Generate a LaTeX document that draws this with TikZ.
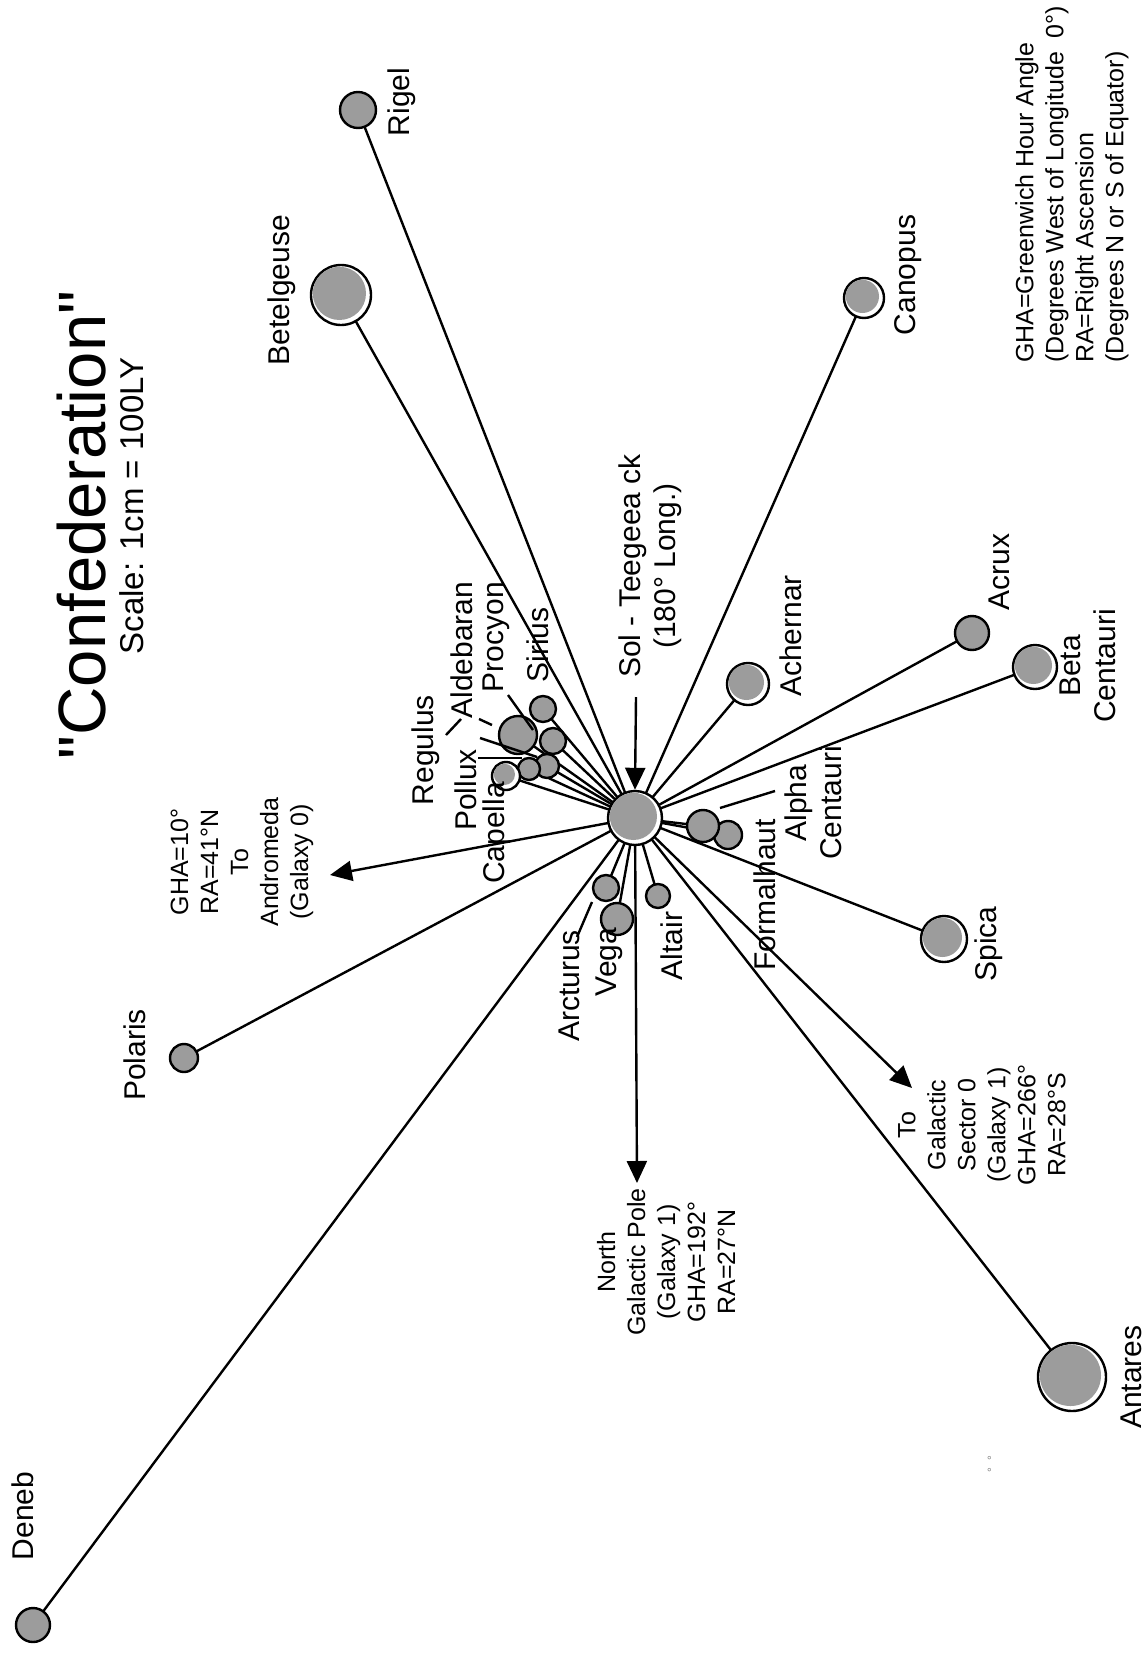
\documentclass[tikz,border=0pt]{standalone}
\usepackage{fontspec}
\setmainfont{Liberation Sans}
\newfontfamily\titlefont{Liberation Sans}
\usetikzlibrary{arrows.meta,backgrounds}
\definecolor{ballgray}{RGB}{156,156,156}
\tikzset{
  ball/.style={circle,draw,line width=2.4pt,fill=ballgray,inner sep=0pt},
  haloball/.style={ball,fill=white},
  lbl/.style={rotate=90,inner sep=0pt,align=center,font=\fontsize{30}{35}\selectfont},
  smalllbl/.style={lbl,font=\fontsize{25}{30}\selectfont},
  ray/.style={line width=2.4pt},
  arr/.style={ray,-{Triangle[length={22pt 0},width={20pt 0}]}}
}
% gray disc inside a haloed star, shifted up-left
\newcommand{\halofill}[2]{\fill[ballgray] ([shift={(-1.6pt,1.6pt)}]#1.center) circle[radius=#2pt-3.4pt];}
\begin{document}
\begin{tikzpicture}[x=1pt,y=-1pt]
        \useasboundingbox (0,0) rectangle (1148,1654);
        % title
        \node[lbl,font=\titlefont\fontsize{67}{70}\selectfont] (title) at (82,525) {"Confederation"};
        \node[lbl,font=\fontsize{33}{36}\selectfont] (scale) at (132,506) {Scale:  1cm = 100LY};
        \node[smalllbl,anchor=west,align=left] (legend) at (1072,363) {GHA=Greenwich Hour Angle\\(Degrees West of Longitude\ \ 0°)\\RA=Right Ascension\\(Degrees N or S of Equator)};
        % stars
        \node[haloball,minimum size=54pt] (sol) at (635,818) {}; \halofill{sol}{27}
        \node[ball,minimum size=36pt] (rigel) at (358,110) {};
        \node[haloball,minimum size=60pt] (betelgeuse) at (341,295) {}; \halofill{betelgeuse}{30}
        \node[haloball,minimum size=40pt] (canopus) at (864,298) {}; \halofill{canopus}{20}
        \node[ball,minimum size=34pt] (acrux) at (972,633) {};
        \node[haloball,minimum size=44pt] (betacen) at (1035,667) {}; \halofill{betacen}{22}
        \node[haloball,minimum size=42pt] (achernar) at (748,684) {}; \halofill{achernar}{21}
        \node[ball,minimum size=28pt] (alphaB) at (728,835) {};
        \node[ball,minimum size=32pt] (alphaA) at (703,826) {};
        \node[haloball,minimum size=46pt] (spica) at (944,939) {}; \halofill{spica}{23}
        \node[haloball,minimum size=68pt] (antares) at (1072,1377) {}; \halofill{antares}{34}
        \node[ball,minimum size=24pt] (altair) at (658,896) {};
        \node[ball,minimum size=32pt] (vega) at (617,919) {};
        \node[ball,minimum size=26pt] (arcturus) at (606,888) {};
        \node[ball,minimum size=28pt] (polaris) at (184,1058) {};
        \node[ball,minimum size=34pt] (deneb) at (33,1625) {};
        \node[ball,minimum size=26pt] (sirius) at (543,709) {};
        \node[ball,minimum size=38pt] (aldebaran) at (518,735) {};
        \node[ball,minimum size=26pt] (procyon) at (553,741) {};
        \node[ball,minimum size=24pt] (regulus) at (547,766) {};
        \node[ball,minimum size=22pt] (pollux) at (529,769) {};
        \node[haloball,minimum size=28pt] (capella) at (506,776) {}; \halofill{capella}{14}
        % arrow ends
        \coordinate (solptr) at (636,697);
        \coordinate (andtip) at (330,875);
        \coordinate (ngptip) at (637,1183);
        \coordinate (sectip) at (912,1088);
        \begin{scope}[on background layer]
        \foreach \s in {rigel,betelgeuse,canopus,acrux,betacen,achernar,alphaA,alphaB,spica,antares,
                        altair,vega,arcturus,polaris,deneb,sirius,aldebaran,procyon,regulus,pollux,capella}
          \draw[ray] (sol.center) -- (\s.center);
        \draw[arr] (sol.center) -- (andtip);
        \draw[arr] (sol.center) -- (ngptip);
        \draw[arr] (sol.center) -- (sectip);
        \end{scope}
        \draw[arr] (solptr) -- (sol.north);
        % leaders
        \draw[ray] (446,735) -- (461,719);
        \draw[ray] (479,719) -- (492,725);
        \draw[ray] (508,695) -- (533,730);
        \draw[ray] (480,738) -- (537,757);
        \draw[ray] (478,758) -- (522,758);
        \draw[ray] (720,808) -- (775,791);
        \draw[ray] (592,902) -- (577,937);
        % labels
        \node[lbl] (sollabel) at (650,566) {Sol - Teegeea ck\\(180° Long.)};
        \node[lbl] (deneblabel) at (23,1516) {Deneb};
        \node[lbl] (polarislabel) at (135,1055) {Polaris};
        \node[lbl] (betelgeuselabel) at (282,290) {Betelgeuse};
        \node[lbl] (rigellabel) at (402,102) {Rigel};
        \node[lbl] (canopuslabel) at (908,275) {Canopus};
        \node[lbl] (acruxlabel) at (999,572) {Acrux};
        \node[lbl] (betacenlabel) at (1088,666) {Beta\\Centauri};
        \node[lbl] (achernarlabel) at (791,636) {Achernar};
        \node[lbl] (alphacenlabel) at (813,803) {Alpha\\Centauri};
        \node[lbl] (formalhautlabel) at (765,895) {Formalhaut};
        \node[lbl] (spicalabel) at (989,944) {Spica};
        \node[lbl] (antareslabel) at (1131,1377) {Antares};
        \node[lbl] (altairlabel) at (672,946) {Altair};
        \node[lbl] (vegalabel) at (609,962) {Vega};
        \node[lbl] (arcturuslabel) at (569,986) {Arcturus};
        \node[lbl] (capellalabel) at (497,833) {Capella};
        \node[lbl] (polluxlabel) at (466,790) {Pollux};
        \node[lbl] (reguluslabel) at (426,750) {Regulus};
        \node[lbl] (aldebaranlabel) at (462,650) {Aldebaran};
        \node[lbl] (procyonlabel) at (496,637) {Procyon};
        \node[lbl] (siriuslabel) at (538,645) {Sirius};
        \node[smalllbl] (andlabel) at (242,862) {GHA=10°\\RA=41°N\\To\\Andromeda\\(Galaxy 0)};
        \node[smalllbl] (ngplabel) at (666,1262) {North\\Galactic Pole\\(Galaxy 1)\\GHA=192°\\RA=27°N};
        \node[smalllbl] (seclabel) at (982,1125) {To\\Galactic\\Sector 0\\(Galaxy 1)\\GHA=266°\\RA=28°S};
        \node[lbl,font=\fontsize{12}{14}\selectfont,text=gray] (marks) at (992,1464) {°\ \ °};
\end{tikzpicture}
\end{document}
